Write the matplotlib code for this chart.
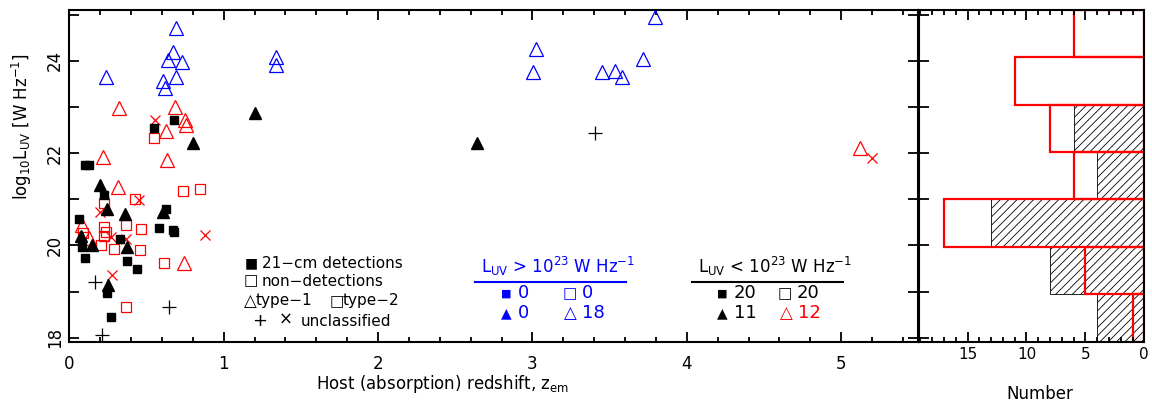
import numpy as np
import matplotlib
matplotlib.use("Agg")
import matplotlib.pyplot as plt
from matplotlib.ticker import MultipleLocator, NullFormatter
from matplotlib.lines import Line2D

plt.rcParams['font.family'] = 'DejaVu Sans'
plt.rcParams['mathtext.default'] = 'regular'
plt.rcParams['hatch.linewidth'] = 0.6

# type-1, L_UV > 1e23 (blue open triangles)
blue_tri_z = [0.694, 0.672, 0.638, 0.733, 0.240, 0.694, 0.608, 0.620,
              1.336, 1.342, 3.022, 3.003, 3.450, 3.534, 3.580, 3.716, 3.796]
blue_tri_l = [24.72, 24.20, 24.01, 23.98, 23.64, 23.64, 23.57, 23.41,
              24.08, 23.90, 24.25, 23.75, 23.75, 23.78, 23.64, 24.04, 24.95]

# 21-cm detections (black filled squares)
det_sq_z = [0.677, 0.547, 0.100, 0.130, 0.223, 0.625, 0.061, 0.584, 0.672,
            0.680, 0.326, 0.080, 0.099, 0.374, 0.439, 0.244, 0.270]
det_sq_l = [22.72, 22.54, 21.75, 21.75, 21.10, 20.79, 20.57, 20.38, 20.33,
            20.30, 20.13, 19.97, 19.73, 19.67, 19.49, 18.97, 18.45]

# type-1 detections (black filled triangles)
det_tri_z = [1.200, 0.802, 2.644, 0.197, 0.244, 0.359, 0.605, 0.078, 0.149, 0.374, 0.248]
det_tri_l = [22.86, 22.23, 22.22, 21.32, 20.78, 20.69, 20.73, 20.20, 20.02, 19.97, 19.15]

# type-1 non-detections, L_UV < 1e23 (red open triangles)
red_tri_z = [0.324, 0.685, 0.748, 0.759, 0.625, 0.218, 0.633, 0.313, 0.084, 0.125, 0.746, 5.122]
red_tri_l = [22.98, 22.99, 22.71, 22.61, 22.48, 21.91, 21.86, 21.27, 20.44, 20.16, 19.63, 22.11]

# type-2 non-detections (red open squares)
red_sq_z = [0.547, 0.223, 0.428, 0.737, 0.845, 0.227, 0.235, 0.370, 0.465, 0.089,
            0.227, 0.206, 0.292, 0.460, 0.616, 0.370]
red_sq_l = [22.33, 20.92, 21.01, 21.19, 21.22, 20.41, 20.30, 20.45, 20.36, 20.27,
            20.20, 20.02, 19.92, 19.91, 19.61, 18.66]

# unclassified non-detections (red crosses)
red_x_z = [0.553, 0.452, 0.197, 0.880, 0.270, 0.368, 0.277, 5.200]
red_x_l = [22.71, 20.99, 20.73, 20.23, 20.18, 20.13, 19.37, 21.89]

# unclassified detections (black plus)
plus_z = [0.166, 0.649, 0.212, 3.407]
plus_l = [19.20, 18.66, 18.07, 22.43]

# histogram of log L_UV
bin_edges = [17.92, 18.95, 19.97, 21.00, 22.03, 23.05, 24.08, 25.10]
det_counts = [4, 8, 13, 4, 6, 0, 0]
all_counts = [1, 5, 17, 6, 8, 11, 6]

W, H = 1152, 408


def fx(x):
    return x / W


def fy(y):
    return 1 - y / H


fig = plt.figure(figsize=(11.52, 4.08), dpi=100)
ax = fig.add_axes([fx(69.3), fy(341.5), (918.3 - 69.3) / W, (341.5 - 10) / H])
axh = fig.add_axes([fx(919.3), fy(341.5), (1144.3 - 919.3) / W, (341.5 - 10) / H])

lw = 0.9
ax.plot(red_sq_z, red_sq_l, ls='none', marker='s', ms=7.5, mfc='none', mec='red', mew=lw)
ax.plot(red_tri_z, red_tri_l, ls='none', marker='^', ms=10, mfc='none', mec='red', mew=lw)
ax.plot(red_x_z, red_x_l, ls='none', marker='x', ms=7.5, mec='red', mew=lw)
ax.plot(det_sq_z, det_sq_l, ls='none', marker='s', ms=5.5, mfc='black', mec='black')
ax.plot(det_tri_z, det_tri_l, ls='none', marker='^', ms=9, mfc='black', mec='black')
ax.plot(plus_z, plus_l, ls='none', marker='+', ms=10, mec='black', mew=lw)
ax.plot(blue_tri_z, blue_tri_l, ls='none', marker='^', ms=10, mfc='none', mec='blue', mew=lw)

ax.set_xlim(0, 5.5)
ax.set_ylim(17.92, 25.1)
ax.xaxis.set_major_locator(MultipleLocator(1))
ax.xaxis.set_minor_locator(MultipleLocator(0.2))
ax.yaxis.set_major_locator(MultipleLocator(2))
ax.yaxis.set_minor_locator(MultipleLocator(1))
for a in (ax, axh):
    for s in a.spines.values():
        s.set_linewidth(1.5)
    a.tick_params(which='both', direction='in', top=True, right=True, width=1.3)
    a.tick_params(which='major', length=7)
    a.tick_params(which='minor', length=3.5)
ax.tick_params(axis='y', which='minor', length=7)
ax.tick_params(axis='x', labelsize=12, pad=10)
ax.tick_params(axis='y', labelsize=12, pad=4)
for t in ax.get_yticklabels():
    t.set_rotation(90)
    t.set_va('center')

# histogram panel
axh.barh(bin_edges[:-1], det_counts, height=np.diff(bin_edges), align='edge',
         color='white', edgecolor='black', hatch='////', linewidth=0.6)
axh.barh(bin_edges[:-1], all_counts, height=np.diff(bin_edges), align='edge',
         fill=False, edgecolor='red', linewidth=1.6)
axh.set_xlim(19.1, 0)
axh.set_ylim(17.92, 25.1)
axh.xaxis.set_major_locator(MultipleLocator(5))
axh.xaxis.set_minor_locator(MultipleLocator(1))
axh.yaxis.set_major_locator(MultipleLocator(1))
axh.yaxis.set_major_formatter(NullFormatter())
axh.tick_params(axis='y', right=False)
axh.tick_params(axis='x', labelsize=11, pad=4)

# axis labels
fig.text(fx(442), fy(384), 'Host (absorption) redshift, z$_{em}$', ha='center', va='center', fontsize=12)
fig.text(fx(1040), fy(394), 'Number', ha='center', va='center', fontsize=12)
fig.text(fx(22), fy(127), 'log$_{10}$L$_{UV}$ [W Hz$^{-1}$]', rotation=90, ha='center', va='center', fontsize=12)

# symbol key
fs = 11
fig.text(fx(251), fy(263), '■', ha='center', va='center', fontsize=10)
fig.text(fx(262), fy(263), '21−cm detections', ha='left', va='center', fontsize=fs)
fig.text(fx(251), fy(281), '□', ha='center', va='center', fontsize=11)
fig.text(fx(262), fy(281), 'non−detections', ha='left', va='center', fontsize=fs)
fig.text(fx(250), fy(301), '△', ha='center', va='center', fontsize=12)
fig.text(fx(256), fy(301), 'type−1', ha='left', va='center', fontsize=fs)
fig.text(fx(337), fy(302), '□', ha='center', va='center', fontsize=11)
fig.text(fx(343), fy(301), 'type−2', ha='left', va='center', fontsize=fs)
fig.text(fx(260), fy(321), '+', ha='center', va='center', fontsize=13)
fig.text(fx(286), fy(320), '×', ha='center', va='center', fontsize=12)
fig.text(fx(301), fy(321), 'unclassified', ha='left', va='center', fontsize=fs)


# counts boxes
def count_box(cx, x0, x1, title, color, entries):
    fig.text(fx(cx), fy(266), title, ha='center', va='center', fontsize=12, color=color)
    fig.add_artist(Line2D([fx(x0), fx(x1)], [fy(281.7), fy(281.7)], color=color, lw=1.5))
    for (gx, gy, glyph, gs, num, c) in entries:
        fig.text(fx(gx), fy(gy), glyph, ha='center', va='center', fontsize=gs, color=c)
        fig.text(fx(gx + 12), fy(gy), num, ha='left', va='center', fontsize=13, color=c)


count_box(558, 475, 626, r'L$_{UV}$ > 10$^{23}$ W Hz$^{-1}$', 'blue',
          [(506, 293.5, '■', 8, '0', 'blue'), (570, 293.5, '□', 11, '0', 'blue'),
           (506, 313.5, '▲', 10, '0', 'blue'), (570, 313.5, '△', 12, '18', 'blue')])
count_box(775, 692, 843, r'L$_{UV}$ < 10$^{23}$ W Hz$^{-1}$', 'black',
          [(722, 293.5, '■', 8, '20', 'black'), (785, 293.5, '□', 11, '20', 'black'),
           (722, 313.5, '▲', 10, '11', 'black'), (786, 313.5, '△', 12, '12', 'red')])

fig.savefig('out.png', dpi=100)
